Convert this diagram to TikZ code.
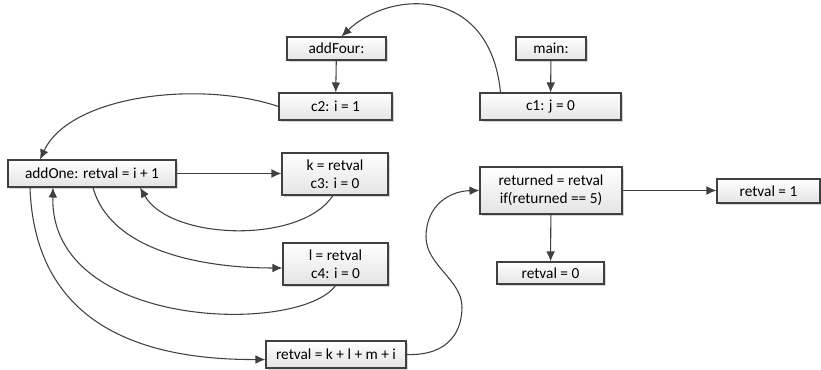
\documentclass[tikz,border=0pt]{standalone}
\usepackage{fontspec}
\setmainfont{Carlito}
\usetikzlibrary{arrows.meta,shadows,calc}
\definecolor{linegray}{HTML}{404040}
\definecolor{boxgray}{HTML}{E4E4E4}
\tikzset{
  box/.style={draw=linegray, line width=0.8pt, top color=white, bottom color=boxgray,
    drop shadow={shadow xshift=1.5pt, shadow yshift=-1.5pt, fill=black!40, opacity=0.4},
    align=center, inner sep=1pt, font=\fontsize{11.5}{13.7}\selectfont},
  flow/.style={draw=linegray, line width=0.8pt, -{Latex[length=7.5pt,width=6.5pt]}},
}
\begin{document}
\begin{tikzpicture}[x=0.75pt,y=0.75pt,yscale=-1,xscale=1]

\useasboundingbox (0,0) rectangle (821,370);

\node [box, minimum width=74.25pt, minimum height=17.25pt] (addfour) at (336.5,48.5) {addFour:};
\node [box, minimum width=52.5pt, minimum height=17.25pt] (main) at (551,48.5) {main:};
\node [box, minimum width=84.75pt, minimum height=20.25pt] (c2) at (335.5,106.5) {c2: i = 1};
\node [box, minimum width=105.75pt, minimum height=20.25pt] (c1) at (550.5,106.5) {c1: j = 0};
\node [box, minimum width=126pt, minimum height=20.25pt] (addone) at (92,173.5) {addOne: retval = i + 1};
\node [box, minimum width=79.5pt, minimum height=31.5pt] (k) at (335,174) {k = retval\\c3: i = 0};
\node [box, minimum width=78.75pt, minimum height=31.5pt] (l) at (335.5,264) {l = retval\\c4: i = 0};
\node [box, minimum width=105pt, minimum height=20.25pt] (rsum) at (336,354.5) {retval = k + l + m + i};
\node [box, minimum width=106.5pt, minimum height=35.25pt] (returned) at (551,190.5) {returned = retval\\if(returned == 5)};
\node [box, minimum width=77.25pt, minimum height=18pt] (retone) at (768.5,191) {retval = 1};
\node [box, minimum width=80.25pt, minimum height=16.5pt] (retzero) at (550.5,273) {retval = 0};

\draw [flow] (addfour) -- (c2);
\draw [flow] (main) -- (c1);
\draw [flow] ($(c1.north)+(-50,0)$) .. controls (490,-15) and (390,-10) .. ($(addfour.north)+(5,0)$);
\draw [flow] (c2.west) .. controls (200,80) and (70,95) .. ($(addone.north)+(-52,0)$);

\draw [flow] (addone.east) -- (addone.east -| k.west);
\draw [flow] ($(k.south)+(-2,0)$) .. controls (300,245) and (170,240) .. ($(addone.south)+(48,0)$);
\draw [flow] ($(addone.south)+(1,0)$) .. controls (110,250) and (200,268) .. ($(l.west)+(0,4)$);
\draw [flow] (l.south) .. controls (300,335) and (50,330) .. ($(addone.south)+(-39,0)$);
\draw [flow] ($(addone.south)+(-62,0)$) .. controls (35,330) and (150,360) .. ($(rsum.west)+(0,5)$);
\draw [flow] (rsum.east) .. controls (450,356) and (462,330) .. (462,307) .. controls (462,280) and (426,265) .. (426,237) .. controls (426,205) and (450,191) .. (returned.west);

\draw [flow] (returned.east) -- (returned.east -| retone.west);
\draw [flow] (returned) -- (retzero);
\end{tikzpicture}
\end{document}
